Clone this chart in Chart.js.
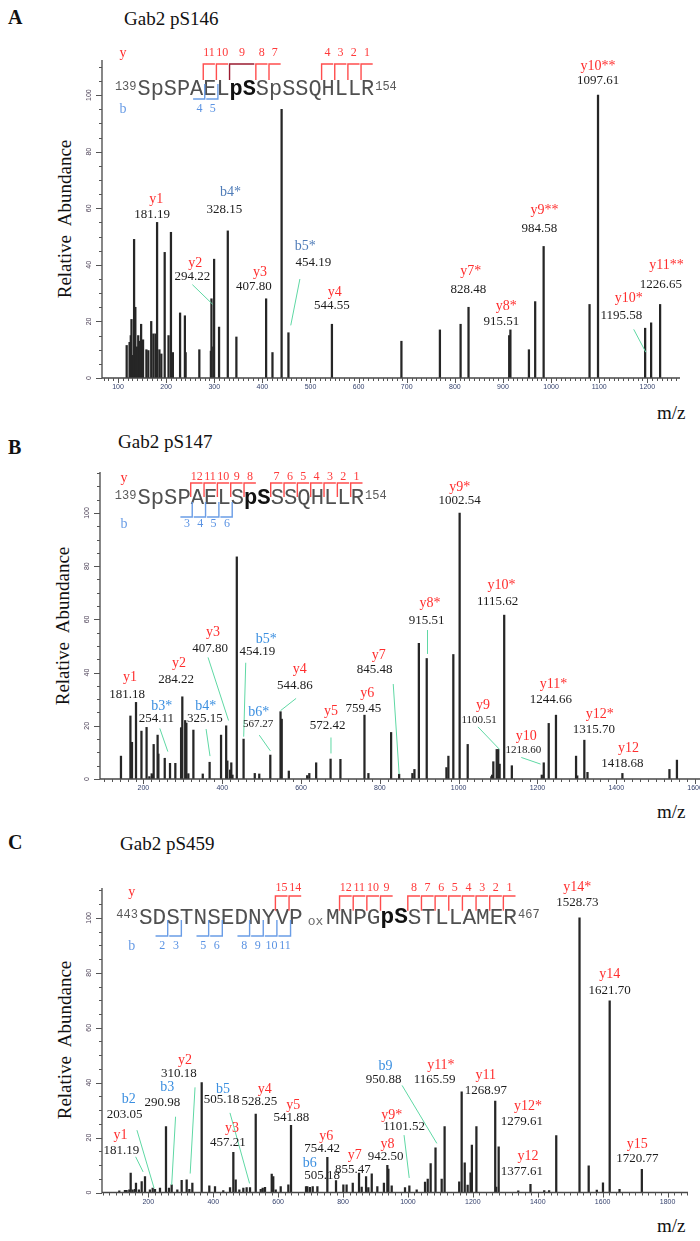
<!DOCTYPE html>
<html><head><meta charset="utf-8">
<script src="https://cdn.jsdelivr.net/npm/chart.js@4.4.0/dist/chart.umd.min.js"></script>
<style>
html,body{margin:0;padding:0;background:#fff;width:700px;height:1241px;overflow:hidden;position:relative;}
canvas{position:absolute;left:0;}
.t{position:absolute;font-family:"Liberation Serif","Times New Roman",serif;color:#111;white-space:nowrap;line-height:1;}
.lt{font-weight:bold;font-size:20px;}
.ti{font-size:19px;}
.ya{font-size:19px;word-spacing:5px;transform:translate(-50%,-50%) rotate(-90deg);}
</style></head><body>
<div class="t lt" style="left:8px;top:6.5px">A</div>
<div class="t ti" style="left:124px;top:9px">Gab2 pS146</div>
<div class="t ti" style="left:657px;top:403px">m/z</div>
<div class="t ya" style="left:63.6px;top:219px">Relative Abundance</div>

<div class="t lt" style="left:8px;top:436.5px">B</div>
<div class="t ti" style="left:118px;top:432.4px">Gab2 pS147</div>
<div class="t ti" style="left:657px;top:802px">m/z</div>
<div class="t ya" style="left:61.6px;top:625.5px">Relative Abundance</div>

<div class="t lt" style="left:8px;top:831.5px">C</div>
<div class="t ti" style="left:120px;top:834px">Gab2 pS459</div>
<div class="t ti" style="left:657px;top:1216px">m/z</div>
<div class="t ya" style="left:63.6px;top:1040px">Relative Abundance</div>

<canvas id="cA"></canvas>
<canvas id="cB"></canvas>
<canvas id="cC"></canvas>
<script>
// ---------------- DATA ----------------
// Panel A: Gab2 pS146
const mzA  = [118,124,126.5,128,131,133.4,136,139,142,145,148,152,159,163,169,173.5,178,179.5,181.19,186,190,197,205,210,214,229,239,240.5,269,293,294.22,298,299.7,310,328.15,346,407.8,421,440,454.19,544.55,689,769,812,828.48,913,915.51,954,967,984.58,1080,1097.61,1195.58,1208,1226.65];
const intA = [11.5,12.6,15,20.7,8,49,25,11,15,13,19,13.5,10,9.7,20,15.6,15.6,12,55,10,8.5,44.4,15,51.5,9,23,22,9,10,9.5,28,11,42,18,52,14.5,28,9,95,16,19,13,17,19,25,15,17,10,27,46.5,26,100,17.6,19.5,26];
const xTicksA = [100,200,300,400,500,600,700,800,900,1000,1100,1200];
const yTicks = [0,20,40,60,80,100];

// Panel B: Gab2 pS147
const mzB  = [143,167,171,181.18,195,208,215,221,224,226,236,238,254.11,267.5,281,295.6,298.7,306,309,314,326.8,350.6,368,397,410,413,420,423,426,437,454.19,482.6,494,522,548,551,569,615.6,621,638.4,675,700,761,771,828.6,849,882.6,887.8,899,919,969,974,986.5,1002.54,1023,1083,1085,1088,1096.6,1100.51,1104,1115.62,1135,1211,1216,1228.6,1247,1298,1301,1319,1327,1415.6,1535,1554];
const intB = [8.6,23.7,13.8,28.8,18,19.4,0.9,2,1.5,13,16.5,9.4,7.8,5.9,5.9,19.3,30.9,22,21,2,18.4,1.9,6.3,16.5,20,6.8,3.4,6.1,1.5,83.5,15,2.1,1.9,9,25.3,22.5,3,1.3,2.1,6.1,7.5,7.4,24,2.1,17.5,1.8,2.1,3.6,51,45.3,4.3,8.6,46.8,100,13,0.9,1.5,6.5,11.1,11.1,5.6,61.6,5,1.5,6.1,20.9,24,8.6,1.2,14.6,2.5,2.1,3.6,7.1];
const xTicksB = [200,400,600,800,1000,1200,1400,1600];

// Panel C: Gab2 pS459
const mzC  = [110.6,128,133,141.5,145.7,151.8,159,162,171,179.6,189.8,205,213.5,220.6,236,254.5,263.8,272,289.4,302.8,318.2,326.5,335.7,364.5,388,405.5,431,451.8,462,469.3,480.5,492.8,503,513.4,531,546.4,552.5,559.6,580.3,585,592.6,608,631.5,639.7,686,690,698,706.6,721,751.7,778.4,801,811,830,849.3,857.5,871,878,888.5,905.7,926,936.6,939.7,950,991,1004.4,1027,1052.7,1061,1070,1085,1104,1113,1158,1165.59,1175,1184,1193,1197,1211,1268.97,1272,1279.61,1340,1377.61,1420,1435,1457,1528.73,1557,1582,1601,1621.7,1652,1720.77];
const intC = [0.6,0.8,0.8,1,7.1,1,1.2,3.4,1,4,5.8,1,1.6,1.2,1.6,24,1.6,2.8,1,4.4,4.6,1.2,3.4,40,2.4,2.2,0.7,1.8,14.6,4.6,1,1.6,1.8,1.8,28.6,1.2,1.6,1.9,6.7,5.8,1,2.2,2.8,24.5,2.2,2.2,1.9,2.2,2.2,12.8,4.3,2.8,2.8,3.4,7.1,2,5.8,1.8,6.8,2.2,3.4,9.9,8.5,2.4,1.8,2.4,1,3.8,4.9,10.5,16.3,4.9,24,3.9,36.7,10.8,2.7,7.2,17.3,24,33.3,2,16.6,0.6,3,0.7,0.7,20.7,100,9.7,0.9,3.5,69.8,1.2,8.4];
const xTicksC = [200,400,600,800,1000,1200,1400,1600,1800];

// Peak annotations: [ion, colour key, ion m/z pos, ion height pos, value text, value m/z pos, value height pos, small?]
const annA = [
 ['y1','r',179.4,63,'181.19',171,57.6],
 ['b4*','s',334,65.6,'328.15',321,59.6],
 ['y2','r',260.5,40.7,'294.22',254.5,35.7],
 ['y3','r',395,37.2,'407.80',382.5,32.2],
 ['b5*','s',489,46.6,'454.19',506,40.7],
 ['y4','r',550.6,30.4,'544.55',544.6,25.6],
 ['y7*','r',833,37.8,'828.48',828,31.2],
 ['y8*','r',907,25.4,'915.51',897,19.8],
 ['y9**','r',986.6,59.4,'984.58',975.5,52.7],
 ['y10**','r',1097.6,110,'1097.61',1097.6,105],
 ['y10*','r',1161.5,28,'1195.58',1146,22.1],
 ['y11**','r',1240,39.9,'1226.65',1228,33.1]
];
const leadA = [[254.5,33,297,26],[478,35,459,18.6],[1171.8,17.2,1197,9.1]];

const annB = [
 ['y1','r',165.7,38.2,'181.18',158.4,31.9],
 ['b3*','b',246.8,27.5,'254.11',233,22.8],
 ['y2','r',290,43.4,'284.22',283,37.4],
 ['b4*','b',358,27.5,'325.15',356,22.8],
 ['y3','r',376.6,55,'407.80',369,49],
 ['b5*','b',511.7,52.4,'454.19',489,47.8],
 ['y4','r',597,41.2,'544.86',584.4,35.3],
 ['b6*','b',493,25,'567.27',491,20.5,1],
 ['y5','r',676,25.5,'572.42',667.5,19.9],
 ['y6','r',768,32.2,'759.45',758,26.5],
 ['y7','r',797,46.6,'845.48',787,41],
 ['y8*','r',927,66,'915.51',919,59.7],
 ['y9*','r',1002.5,109.8,'1002.54',1002.5,104.6],
 ['y10*','r',1109,72.8,'1115.62',1098.7,66.6],
 ['y9','r',1062,27.8,'1100.51',1052,22.2,1],
 ['y10','r',1171.4,16.1,'1218.60',1164,10.9,1],
 ['y11*','r',1241,35.5,'1244.66',1233.8,29.9],
 ['y12*','r',1358,24.4,'1315.70',1343,18.6],
 ['y12','r',1431,11.5,'1418.68',1415.6,5.9]
];
const leadB = [[241.6,19,262,10.3],[359,18.8,369,8.6],[364,45.7,416,22],[459.7,43.7,454.5,15.9],[587.5,30.3,548,25.7],[494,16.5,522,10.6],[676,15.6,676,9.6],[834,35.7,849,1.8],[921,56,921,47],[1049,19.6,1104,11.1],[1159,8.1,1208,5.6]];

const annC = [
 ['y1','r',114.6,20.9,'181.19',117,15.4],
 ['b2','b',140,33.9,'203.05',127,28.2],
 ['b3','b',258.5,38.3,'290.98',243,32.7],
 ['y2','r',312.7,48,'310.18',294,43.4],
 ['b5','b',430,37.5,'505.18',426,34],
 ['y3','r',458,23.3,'457.21',445,18.1],
 ['y4','r',559,37.5,'528.25',542,33],
 ['y5','r',647,31.8,'541.88',641,27.2],
 ['y6','r',748,20.3,'754.42',735.5,16],
 ['b6','b',697.6,10.6,'505.18',735.5,6],
 ['y7','r',836.5,13.6,'855.47',830,8.4],
 ['y8','r',937,17.5,'942.50',931,13],
 ['y9*','r',950,28,'1101.52',988,24],
 ['b9','b',931,45.8,'950.88',925,41],
 ['y11*','r',1101.5,46.4,'1165.59',1082.6,41],
 ['y11','r',1240,42.8,'1268.97',1240,37.3],
 ['y12*','r',1370,31.5,'1279.61',1351,26],
 ['y12','r',1370,13,'1377.61',1351,7.5],
 ['y14*','r',1522,111,'1528.73',1522,105.7],
 ['y14','r',1621.7,79.5,'1621.70',1621.7,73.5],
 ['y15','r',1707,17.6,'1720.77',1707,12.4]
];
const leadC = [[161,13,184,7.5],[165,22.7,218,1.5],[284,27.6,272,2.7],[344,38.3,329,6.9],[451.6,29,512,3.3],[988,20.9,1004,5.3],[982,39,1089,17.9]];

// Peptide sequences and fragment brackets
const seqStrA = 'SpSPAELpSSpSSQHLLR', boldA = [7,8];
const yBrA = [[5,1,'11'],[6,1,'10'],[7,2,'9',1],[9,1,'8'],[10,1,'7'],[14,1,'4'],[15,1,'3'],[16,1,'2'],[17,1,'1']];
const bBrA = [[5,'4'],[6,'5']];
const seqStrB = 'SpSPAELSpSSSQHLLR', boldB = [8,9];
const yBrB = [[4,1,'12'],[5,1,'11'],[6,1,'10'],[7,1,'9'],[8,1,'8'],[10,1,'7'],[11,1,'6'],[12,1,'5'],[13,1,'4'],[14,1,'3'],[15,1,'2'],[16,1,'1']];
const bBrB = [[4,'3'],[5,'4'],[6,'5'],[7,'6']];
const seqTokC = [['S',0],['D',1],['S',2],['T',3],['N',4],['S',5],['E',6],['D',7],['N',8],['Y',9],['V',10],['P',11],
 ['M',13.7],['N',14.7],['P',15.7],['G',16.7],['p',17.7,1],['S',18.7,1],['S',19.7],['T',20.7],['L',21.7],['L',22.7],['A',23.7],['M',24.7],['E',25.7],['R',26.7]];
const yBrC = [[10,1,'15'],[11,1,'14'],[14.7,1,'12'],[15.7,1,'11'],[16.7,1,'10'],[17.7,1,'9'],[19.7,1,'8'],[20.7,1,'7'],[21.7,1,'6'],[22.7,1,'5'],[23.7,1,'4'],[24.7,1,'3'],[25.7,1,'2'],[26.7,1,'1']];
const bBrC = [[2,'2'],[3,'3'],[5,'5'],[6,'6'],[8,'8'],[9,'9'],[10,'10'],[11,'11']];

// ---------------- STYLE / LAYOUT ----------------
const COL = {r:'#ff2e2e', b:'#3b8fe0', s:'#4f7cb8'};
const LEAD = '#5fd8a4';
const XH = 20;
const SERIF = '"Liberation Serif","Times New Roman",serif';
const MONO = '"Liberation Mono","Courier New",monospace';

const PANELS = [
 {id:'cA', top:0, W:700, H:400, area:{left:102,right:680,top:60,bottom:378}, xmin:66.7, xmax:1268, ymax:112.4,
  minor:10, major:100, xt:xTicksA, mz:mzA, it:intA, ann:annA, lead:leadA,
  seq:{x0:137.5, w:13.15, cy:89.5, toks:seqStrA.split('').map((c,i)=>[c,i,boldA.includes(i)?1:0]), sup:'139', end:'154', endCell:18,
       yLab:[123,53], bLab:[123,109], rTop:64, rBot:80, rNum:53, bBot:99, bTop:84, bNum:109, yBr:yBrA, bBr:bBrA}},
 {id:'cB', top:430, W:720, H:390, area:{left:100,right:712,top:472,bottom:779}, xmin:89.8, xmax:1643, ymax:115.4,
  minor:20, major:200, xt:xTicksB, mz:mzB, it:intB, ann:annB, lead:leadB,
  seq:{x0:137.4, w:13.33, cy:498, toks:seqStrB.split('').map((c,i)=>[c,i,boldB.includes(i)?1:0]), sup:'139', end:'154', endCell:17,
       yLab:[124,478], bLab:[124,524], rTop:483, rBot:497, rNum:477, bBot:517, bTop:502, bNum:524, yBr:yBrB, bBr:bBrB}},
 {id:'cC', top:850, W:700, H:391, area:{left:102,right:688,top:888,bottom:1192.5}, xmin:57.3, xmax:1863, ymax:110.9,
  minor:20, major:200, xt:xTicksC, mz:mzC, it:intC, ann:annC, lead:leadC,
  seq:{x0:138.9, w:13.65, cy:917.7, toks:seqTokC, sup:'443', end:'467', endCell:27.7, ox:[315.5,921.7],
       yLab:[131.7,892.7], bLab:[131.7,946], rTop:896, rBot:910.7, rNum:888, bBot:936, bTop:920, bNum:946, yBr:yBrC, bBr:bBrC}}
];

function line(ctx,x1,y1,x2,y2){ctx.beginPath();ctx.moveTo(x1,y1);ctx.lineTo(x2,y2);ctx.stroke();}
function txt(ctx,s,x,y,font,col,align){ctx.font=font;ctx.fillStyle=col;ctx.textAlign=align||'center';ctx.textBaseline='middle';ctx.fillText(s,x,y);}

function overlay(P){
 return {id:'ov'+P.id, afterDatasetsDraw(chart){
  const ctx=chart.ctx, xs=chart.scales.x, ys=chart.scales.y, a=chart.chartArea, T=P.top;
  const X=m=>xs.getPixelForValue(m), Y=v=>ys.getPixelForValue(v);
  ctx.save();
  // axes
  ctx.strokeStyle='#474747'; ctx.lineWidth=1.3;
  ctx.beginPath(); ctx.moveTo(a.left,a.top); ctx.lineTo(a.left,a.bottom); ctx.lineTo(a.right,a.bottom); ctx.stroke();
  ctx.lineWidth=1; ctx.strokeStyle='#555';
  for(let k=0;k*5<=P.ymax;k++){const v=k*5, y=Math.round(Y(v))+0.5, L=(v%20===0)?6:3; line(ctx,a.left-L,y,a.left,y);}
  for(const v of yTicks){const y=Y(v); ctx.save(); ctx.translate(a.left-13,y); ctx.rotate(-Math.PI/2);
    txt(ctx,String(v),0,0,'7px "Liberation Sans",Arial,sans-serif','#4a3f55'); ctx.restore();}
  const k0=Math.ceil(P.xmin/P.minor), k1=Math.floor(P.xmax/P.minor);
  for(let k=k0;k<=k1;k++){const m=k*P.minor, x=Math.round(X(m))+0.5, L=(m%P.major===0)?5:3; line(ctx,x,a.bottom,x,a.bottom+L);}
  // leaders
  ctx.strokeStyle=LEAD; ctx.lineWidth=1;
  for(const l of P.lead) line(ctx,X(l[0]),Y(l[1]),X(l[2]),Y(l[3]));
  // labels
  for(const an of P.ann){
    txt(ctx,an[0],X(an[2]),Y(an[3]),'14px '+SERIF,COL[an[1]]);
    txt(ctx,an[4],X(an[5]),Y(an[6]),(an[7]?'11px ':'13px ')+SERIF,'#1c1c1c');
  }
  // sequence
  const S=P.seq, w=S.w, fs=w/0.6, cy=S.cy-T;
  const cx=c=>S.x0+c*w;
  for(const t of S.toks){
    ctx.font=(t[2]?'bold ':'')+fs.toFixed(2)+'px '+MONO;
    ctx.fillStyle=t[2]?'#111':'#505050'; ctx.textAlign='center'; ctx.textBaseline='middle';
    ctx.fillText(t[0],cx(t[1]+0.5),cy);
  }
  txt(ctx,S.sup,S.x0-1,cy-2.5,'12px '+MONO,'#5a5a5a','right');
  txt(ctx,S.end,cx(S.endCell)+1,cy-2.5,'12px '+MONO,'#5a5a5a','left');
  if(S.ox) txt(ctx,'ox',S.ox[0],S.ox[1]-T,'13px '+MONO,'#6a6a6a');
  txt(ctx,'y',S.yLab[0],S.yLab[1]-T,'14px '+SERIF,COL.r);
  txt(ctx,'b',S.bLab[0],S.bLab[1]-T,'14px '+SERIF,'#6a9de6');
  ctx.lineWidth=1.4;
  for(const br of S.yBr){
    const x=cx(br[0]), x2=cx(br[0]+br[1])-1.5;
    ctx.strokeStyle=br[3]?'#9b1b30':'#ff4d4d';
    ctx.beginPath(); ctx.moveTo(x,S.rBot-T); ctx.lineTo(x,S.rTop-T); ctx.lineTo(x2,S.rTop-T); ctx.stroke();
    txt(ctx,br[2],(x+x2)/2,S.rNum-T,'12px '+SERIF,'#ff3a3a');
  }
  ctx.strokeStyle='#6a9de6';
  for(const br of S.bBr){
    const x=cx(br[0])+1.5, x1=x-w+1.5;
    ctx.beginPath(); ctx.moveTo(x1,S.bBot-T); ctx.lineTo(x,S.bBot-T); ctx.lineTo(x,S.bTop-T); ctx.stroke();
    txt(ctx,br[1],x-w*0.4,S.bNum-T,'12px '+SERIF,'#5b93e3');
  }
  ctx.restore();
 }};
}

function makeChart(P){
  const cv=document.getElementById(P.id);
  cv.width=P.W; cv.height=P.H; cv.style.top=P.top+'px';
  const A=P.area;
  const pad={left:A.left, right:P.W-A.right, top:A.top-P.top, bottom:P.top+P.H-A.bottom-XH};
  new Chart(cv,{
    type:'bar',
    data:{datasets:[{data:P.mz.map((m,i)=>({x:m,y:P.it[i]})), backgroundColor:'#262626', borderWidth:0, barThickness:1.6}]},
    options:{
      responsive:false, animation:false, devicePixelRatio:1,
      layout:{padding:pad},
      plugins:{legend:{display:false}, tooltip:{enabled:false}},
      scales:{
        x:{type:'linear', min:P.xmin, max:P.xmax, offset:false,
           grid:{display:false, drawTicks:false, offset:false}, border:{display:false},
           afterBuildTicks:s=>{s.ticks=P.xt.map(v=>({value:v}));},
           afterFit:s=>{s.height=XH;},
           ticks:{autoSkip:false, maxRotation:0, minRotation:0, padding:5, color:'#36436e',
                  font:{family:'"Liberation Sans",Arial,sans-serif', size:7}, callback:v=>String(v)}},
        y:{display:false, min:0, max:P.ymax}
      }
    },
    plugins:[overlay(P)]
  });
}
PANELS.forEach(makeChart);
</script>
</body></html>
